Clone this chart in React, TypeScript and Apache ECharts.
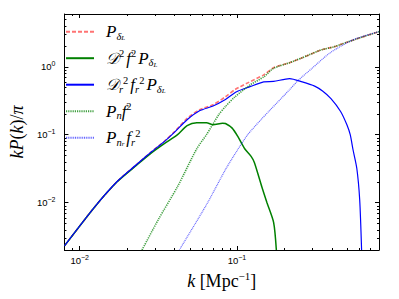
import React, { useEffect, useRef } from "react";
import * as echarts from "echarts";

// ---- data (k in Mpc^-1, kP(k)/pi) ----
const kDeltaL = [0.008, 0.0125, 0.0173, 0.0229, 0.0286, 0.0345, 0.04, 0.048, 0.0578, 0.0705, 0.0845, 0.097, 0.117, 0.148, 0.171, 0.216, 0.26, 0.344, 0.413, 0.5, 0.603, 0.8];
const pDeltaL = [0.0023, 0.0087, 0.0204, 0.036, 0.056, 0.08, 0.11, 0.172, 0.233, 0.276, 0.362, 0.46, 0.58, 0.76, 0.97, 1.15, 1.36, 1.78, 1.97, 2.3, 2.67, 3.3];

const kGrowth = [0.008, 0.0125, 0.0173, 0.0229, 0.0286, 0.0345, 0.0419, 0.0482, 0.0555, 0.064, 0.0705, 0.081, 0.0845, 0.0932, 0.101, 0.112, 0.123, 0.129, 0.144, 0.155, 0.171, 0.178];
const pGrowth = [0.0023, 0.0087, 0.0202, 0.0352, 0.054, 0.074, 0.1, 0.136, 0.15, 0.15, 0.14, 0.148, 0.146, 0.125, 0.095, 0.062, 0.048, 0.039, 0.017, 0.01, 0.0051, 0.002];

const kGrowthR = [0.008, 0.0125, 0.0173, 0.0229, 0.0286, 0.0345, 0.04, 0.048, 0.0578, 0.0705, 0.0845, 0.0995, 0.121, 0.148, 0.171, 0.216, 0.26, 0.312, 0.35, 0.396, 0.456, 0.5, 0.525, 0.547, 0.578, 0.603, 0.62];
const pGrowthR = [0.0023, 0.0087, 0.0204, 0.036, 0.056, 0.079, 0.108, 0.165, 0.225, 0.265, 0.33, 0.43, 0.51, 0.6, 0.61, 0.67, 0.6, 0.52, 0.44, 0.34, 0.22, 0.14, 0.1, 0.06, 0.032, 0.011, 0.002];

const kNoise = [0.0249, 0.0316, 0.0419, 0.0555, 0.064, 0.0766, 0.0845, 0.097, 0.121, 0.148, 0.171, 0.216, 0.26, 0.344, 0.413, 0.5, 0.603, 0.8];
const pNoise = [0.002, 0.0056, 0.0172, 0.062, 0.1, 0.197, 0.26, 0.36, 0.54, 0.71, 0.95, 1.15, 1.36, 1.78, 1.97, 2.3, 2.67, 3.3];

const kNoiseR = [0.043, 0.064, 0.0845, 0.101, 0.117, 0.142, 0.163, 0.216, 0.245, 0.3, 0.39, 0.547, 0.8];
const pNoiseR = [0.002, 0.0093, 0.0306, 0.06, 0.1, 0.166, 0.233, 0.46, 0.63, 0.95, 1.6, 2.5, 3.3];

const xMin = 0.008;
const xMax = 0.8;
const yMin = 0.002;
const yMax = 6;

const xMinorTicks = [0.008, 0.009, 0.02, 0.03, 0.04, 0.05, 0.06, 0.07, 0.08, 0.09, 0.2, 0.3, 0.4, 0.5, 0.6, 0.7, 0.8];
const yMinorTicks = [0.002, 0.003, 0.004, 0.005, 0.006, 0.007, 0.008, 0.009, 0.02, 0.03, 0.04, 0.05, 0.06, 0.07, 0.08, 0.09, 0.2, 0.3, 0.4, 0.5, 0.6, 0.7, 0.8, 0.9, 2, 3, 4, 5, 6];

const seriesNames = ["P_δL", "D² f² P_δL", "D_r² f_r² P_δL", "P_n f²", "P_nr f_r²"];
const legendLabels: Record<string, string> = {
  "P_δL": "{m|P}{sub|δ}{sub2|L}",
  "D² f² P_δL": "{cal|𝒟}{sup|2}{sp| }{m|f}{sup|2}{sp| }{m|P}{sub|δ}{sub2|L}",
  "D_r² f_r² P_δL": "{cal|𝒟}{sub|r}{sup|2}{sp| }{m|f}{sub|r}{sup|2}{sp| }{m|P}{sub|δ}{sub2|L}",
  "P_n f²": "{m|P}{sub|n}{m|f}{sup|2}",
  "P_nr f_r²": "{m|P}{sub|n}{sub2|r}{sp| }{m|f}{sub|r}{sup|2}",
};

const SERIF = "'Liberation Serif', 'DejaVu Serif', serif";
const SANS = "'Liberation Sans', 'DejaVu Sans', sans-serif";

const pairs = (ks: number[], ps: number[]) => ks.map((k, i) => [k, ps[i]]);

const tickLabel = (v: number) => {
  const l = Math.log10(v);
  const e = Math.round(l);
  if (Math.abs(l - e) > 1e-6) return "";
  return `{b|10}{s|${e < 0 ? "−" : ""}${Math.abs(e)}}`;
};

const labelRich = {
  b: { fontSize: 9.5, fontFamily: SANS, lineHeight: 13, color: "#000" },
  s: { fontSize: 7, fontFamily: SANS, lineHeight: 6, verticalAlign: "top", color: "#000" },
};

export default function App() {
  const ref = useRef<HTMLDivElement>(null);
  useEffect(() => {
    if (!ref.current) return;
    const chart = echarts.init(ref.current, undefined, { renderer: "svg" });
    const axisCommon = {
      type: "log",
      logBase: 10,
      splitLine: { show: false },
      axisLine: { show: true, onZero: false, lineStyle: { color: "#000", width: 1 } },
      axisTick: { show: true, inside: true, length: 4, lineStyle: { color: "#000" } },
    };
    const mathRich = {
      i: { fontSize: 18, fontFamily: SERIF, fontStyle: "italic", lineHeight: 22, color: "#000" },
      r: { fontSize: 18, fontFamily: SERIF, lineHeight: 22, color: "#000" },
      sup: { fontSize: 11, fontFamily: SERIF, lineHeight: 11, verticalAlign: "top", color: "#000" },
    };
    const option: any = {
      animation: false,
      backgroundColor: "#fff",
      grid: { left: 52, top: 14, right: 20, bottom: 49, containLabel: false },
      xAxis: [
        {
          ...axisCommon,
          position: "bottom",
          min: xMin,
          max: xMax,
          axisLabel: { margin: 4, formatter: tickLabel, rich: labelRich, showMinLabel: false, showMaxLabel: false },
          name: "{i|k}{r| [Mpc}{sup|−1}{r|]}",
          nameLocation: "middle",
          nameGap: 20,
          nameTextStyle: { rich: mathRich },
        },
        {
          ...axisCommon,
          position: "top",
          min: xMin,
          max: xMax,
          axisLabel: { show: false },
        },
      ],
      yAxis: [
        {
          ...axisCommon,
          position: "left",
          min: yMin,
          max: yMax,
          axisLabel: { margin: 9, formatter: tickLabel, rich: labelRich, showMinLabel: false, showMaxLabel: false },
          name: "{i|kP}{r|(}{i|k}{r|)/}{i|π}",
          nameLocation: "middle",
          nameRotate: 90,
          nameGap: 26,
          nameTextStyle: { rich: mathRich },
        },
        {
          ...axisCommon,
          position: "right",
          min: yMin,
          max: yMax,
          axisLabel: { show: false },
        },
      ],
      legend: {
        orient: "vertical",
        left: 65,
        top: 21.7,
        padding: 0,
        itemWidth: 28,
        itemHeight: 10,
        itemGap: 6.5,
        selectedMode: false,
        itemStyle: { opacity: 0 },
        data: seriesNames,
        formatter: (name: string) => legendLabels[name],
        textStyle: {
          fontSize: 17,
          lineHeight: 20,
          fontFamily: SERIF,
          padding: [0, 0, 0, 7],
          rich: {
            m: { fontSize: 17, fontFamily: SERIF, fontStyle: "italic", lineHeight: 20, color: "#000" },
            cal: { fontSize: 16, fontFamily: "'DejaVu Serif', 'Noto Sans', serif", fontStyle: "italic", lineHeight: 20, color: "#000" },
            sp: { fontSize: 8, lineHeight: 20 },
            sup: { fontSize: 10.5, fontFamily: SERIF, lineHeight: 11, verticalAlign: "top", color: "#000" },
            sub: { fontSize: 10.5, fontFamily: SERIF, fontStyle: "italic", lineHeight: 11, verticalAlign: "bottom", color: "#000" },
            sub2: { fontSize: 7, fontFamily: SERIF, fontStyle: "italic", lineHeight: 5, verticalAlign: "bottom", color: "#000" },
          },
        },
      },
      series: [
        {
          name: seriesNames[0],
          type: "line",
          data: pairs(kDeltaL, pDeltaL),
          symbol: "none",
          smooth: 0.25,
          lineStyle: { color: "#ff0000", opacity: 0.55, width: 1.6, type: [4, 2] },
          itemStyle: { color: "#ff0000" },
          clip: true,
        },
        {
          name: seriesNames[1],
          type: "line",
          data: pairs(kGrowth, pGrowth),
          symbol: "none",
          smooth: 0.25,
          lineStyle: { color: "#008000", width: 1.5 },
          itemStyle: { color: "#008000" },
          clip: true,
        },
        {
          name: seriesNames[2],
          type: "line",
          data: pairs(kGrowthR, pGrowthR),
          symbol: "none",
          smooth: 0.25,
          lineStyle: { color: "#0000ff", width: 1.2 },
          itemStyle: { color: "#0000ff" },
          clip: true,
        },
        {
          name: seriesNames[3],
          type: "line",
          data: pairs(kNoise, pNoise),
          symbol: "none",
          smooth: 0.25,
          lineStyle: { color: "#008000", opacity: 0.75, width: 1.6, type: [1.2, 1] },
          itemStyle: { color: "#008000" },
          clip: true,
        },
        {
          name: seriesNames[4],
          type: "line",
          data: pairs(kNoiseR, pNoiseR),
          symbol: "none",
          smooth: 0.25,
          lineStyle: { color: "#0000ff", opacity: 0.6, width: 1.2, type: [1, 0.8] },
          itemStyle: { color: "#0000ff" },
          clip: true,
        },
      ],
    };
    chart.setOption(option);

    // minor ticks on all four sides, positioned through the axes' own scales
    const [, top] = chart.convertToPixel({ gridIndex: 0 }, [xMin, yMax]) as number[];
    const [, bottom] = chart.convertToPixel({ gridIndex: 0 }, [xMin, yMin]) as number[];
    const [left] = chart.convertToPixel({ gridIndex: 0 }, [xMin, yMin]) as number[];
    const [right] = chart.convertToPixel({ gridIndex: 0 }, [xMax, yMin]) as number[];
    const len = 2;
    const els: any[] = [];
    const st = { stroke: "#000", lineWidth: 1 };
    xMinorTicks.forEach((v) => {
      const px = Math.round((chart.convertToPixel({ gridIndex: 0 }, [v, yMin]) as number[])[0]) + 0.5;
      els.push({ type: "line", shape: { x1: px, y1: bottom, x2: px, y2: bottom - len }, style: st, silent: true });
      els.push({ type: "line", shape: { x1: px, y1: top, x2: px, y2: top + len }, style: st, silent: true });
    });
    yMinorTicks.forEach((v) => {
      const py = Math.round((chart.convertToPixel({ gridIndex: 0 }, [xMin, v]) as number[])[1]) + 0.5;
      els.push({ type: "line", shape: { x1: left, y1: py, x2: left + len, y2: py }, style: st, silent: true });
      els.push({ type: "line", shape: { x1: right, y1: py, x2: right - len, y2: py }, style: st, silent: true });
    });
    chart.setOption({ graphic: els });

    return () => chart.dispose();
  }, []);
  return <div ref={ref} style={{ position: "fixed", left: 0, top: 0, width: 399, height: 299 }} />;
}
